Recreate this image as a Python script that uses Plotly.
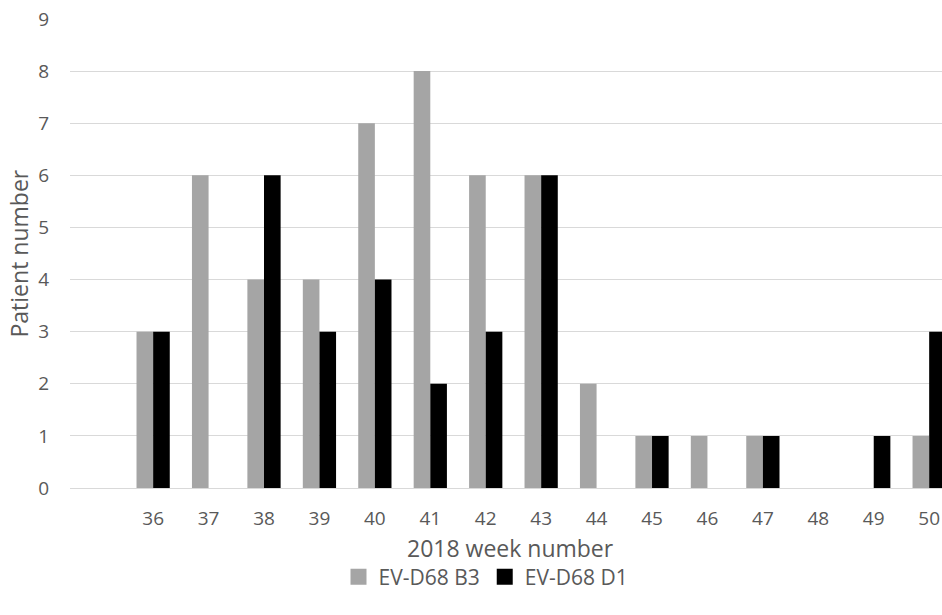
import plotly.graph_objects as go

# Weekly counts of EV-D68 patients by subclade, 2018
weeks = [36, 37, 38, 39, 40, 41, 42, 43, 44, 45, 46, 47, 48, 49, 50]
b3_counts = [3, 6, 4, 4, 7, 8, 6, 6, 2, 1, 1, 1, 0, 0, 1]
d1_counts = [3, 0, 6, 3, 4, 2, 3, 6, 0, 1, 0, 1, 0, 1, 3]
y_ticks = list(range(0, 10))
series_names = ["EV-D68 B3", "EV-D68 D1"]
series_colors = ["#A5A5A5", "#000000"]

W, H = 942, 615
L, R, T, B = 70, 0, 19, 127
plot_w = W - L - R
plot_h = H - T - B
slot_px = 55.43  # width of one week slot

font_family = "Open Sans, Segoe UI, sans-serif"
tick_color = "#595959"

fig = go.Figure()
for name, color, counts in zip(series_names, series_colors, [b3_counts, d1_counts]):
    fig.add_trace(go.Bar(x=weeks, y=counts, name=name, showlegend=False,
                         legendgroup=name,
                         marker=dict(color=color, line=dict(width=0))))

# Legend entries with larger square swatches
for name, color in zip(series_names, series_colors):
    fig.add_trace(go.Scatter(x=[None], y=[None], mode="markers", name=name,
                             legendgroup=name,
                             marker=dict(symbol="square", size=17, color=color,
                                         line=dict(width=0))))

x0 = 34.5
x1 = x0 + plot_w / slot_px

fig.update_layout(
    width=W, height=H,
    margin=dict(l=L, r=R, t=T, b=B, pad=0),
    paper_bgcolor="white", plot_bgcolor="white",
    barmode="group", bargap=0.4, bargroupgap=0,
    font=dict(family=font_family, color=tick_color, size=18),
    showlegend=True,
    legend=dict(orientation="h", x=(486 - L) / plot_w, xanchor="center",
                y=(T + plot_h - 577) / plot_h, yanchor="middle",
                font=dict(size=21, color=tick_color), itemwidth=30,
                traceorder="normal", tracegroupgap=0),
    xaxis=dict(range=[x0, x1], tickmode="array", tickvals=weeks,
               ticktext=[str(w) for w in weeks], showgrid=False,
               showline=True, linecolor="#D9D9D9", linewidth=1,
               ticks="", ticklabelstandoff=13, zeroline=False,
               tickfont=dict(size=19, color=tick_color)),
    yaxis=dict(range=[0, 9], tickmode="array", tickvals=y_ticks,
               showgrid=True, gridcolor="#D9D9D9", gridwidth=1,
               zeroline=False, showline=False, ticks="",
               ticklabelstandoff=20,
               tickfont=dict(size=19, color=tick_color)),
    annotations=[
        dict(text="2018 week number", xref="paper", yref="paper",
             x=(510 - L) / plot_w, y=(T + plot_h - 548) / plot_h,
             xanchor="center", yanchor="middle", showarrow=False,
             font=dict(size=23, color=tick_color)),
        dict(text="Patient number", xref="paper", yref="paper",
             x=(18 - L) / plot_w, y=0.5, textangle=-90,
             xanchor="center", yanchor="middle", showarrow=False,
             font=dict(size=23, color=tick_color)),
    ],
)

fig.write_html("out.html")
